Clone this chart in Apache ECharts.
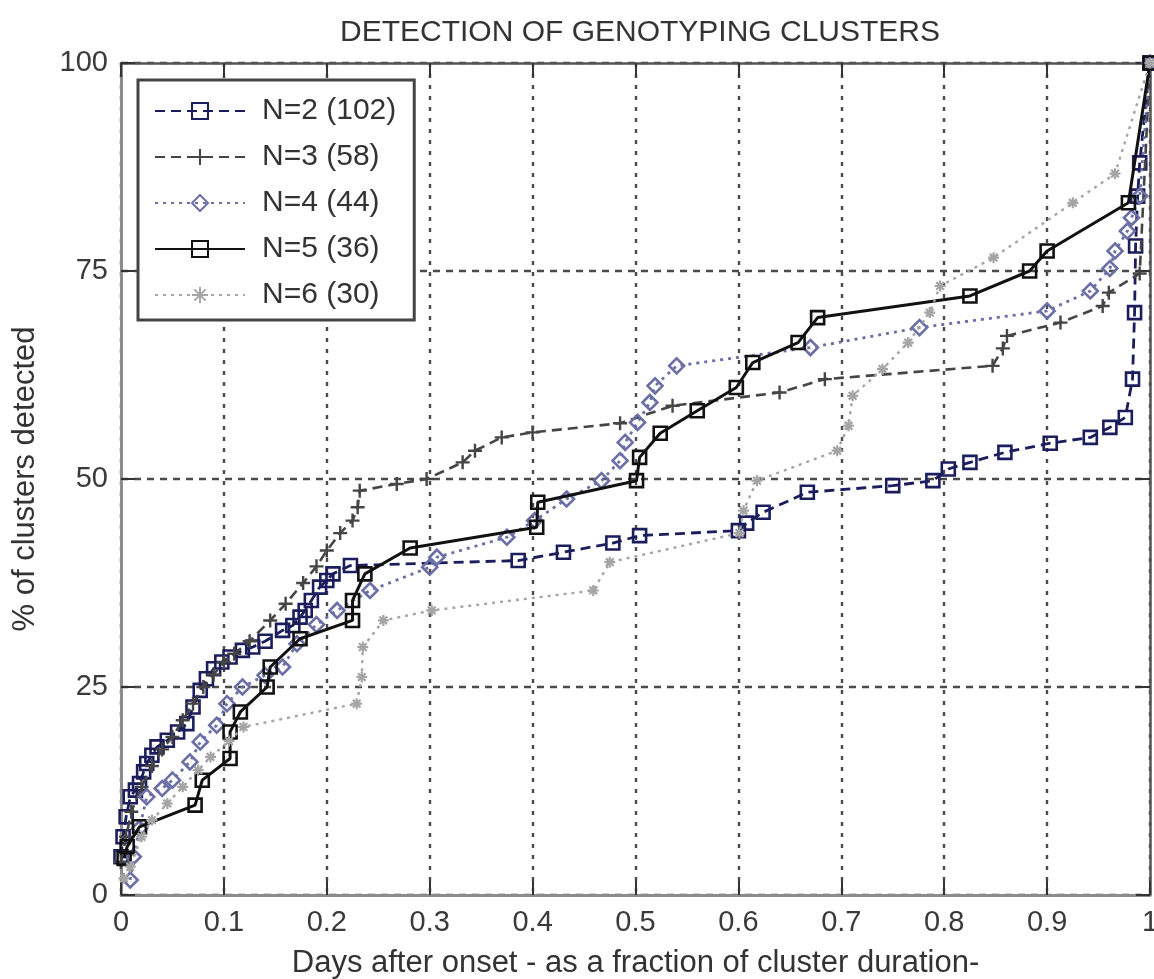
<!DOCTYPE html>
<html>
<head>
<meta charset="utf-8">
<script src="https://cdn.jsdelivr.net/npm/echarts@6/dist/echarts.min.js"></script>
<style>
html,body{margin:0;padding:0;background:#fff;}
#chart{width:1154px;height:979px;}
</style>
</head>
<body>
<div id="chart"></div>
<script>
// ---- data (x = fraction of cluster duration, y = % of clusters detected) ----
const titleText = 'DETECTION OF GENOTYPING CLUSTERS';
const xAxisName = 'Days after onset - as a fraction of cluster duration-';
const yAxisName = '% of clusters detected';
const seriesNames = ['N=2 (102)', 'N=3 (58)', 'N=4 (44)', 'N=5 (36)', 'N=6 (30)'];

const n2x = [0, 0.002, 0.005, 0.009, 0.014, 0.018, 0.022, 0.025, 0.03, 0.035, 0.045, 0.055, 0.064, 0.07, 0.077, 0.083, 0.09, 0.098, 0.106, 0.118, 0.128, 0.14, 0.157, 0.167, 0.174, 0.179, 0.185, 0.193, 0.2, 0.206, 0.223,
  0.386, 0.43, 0.478, 0.504, 0.6, 0.608, 0.624, 0.667, 0.75, 0.789, 0.804, 0.825, 0.859, 0.903, 0.942, 0.961, 0.976, 0.983, 0.985, 0.986, 0.988, 0.99, 1.0];
const n2y = [4.6, 7, 9.4, 11.8, 12.6, 13.4, 14.8, 15.8, 16.8, 17.8, 18.6, 19.6, 20.6, 22.6, 24.6, 26, 27.2, 28, 28.6, 29.4, 29.8, 30.5, 31.8, 32.4, 33.4, 34.2, 35.4, 37, 37.8, 38.6, 39.6,
  40.2, 41.2, 42.3, 43.2, 43.8, 44.7, 46, 48.4, 49.2, 49.8, 51.2, 52, 53.2, 54.3, 55, 56.2, 57.4, 62, 70, 78, 84, 88, 100];

const n3x = [0, 0.005, 0.01, 0.02, 0.03, 0.04, 0.05, 0.06, 0.07, 0.08, 0.09, 0.1, 0.11, 0.125, 0.145, 0.16, 0.177, 0.19, 0.2, 0.213, 0.225, 0.23, 0.232,
  0.268, 0.297, 0.332, 0.344, 0.37, 0.4, 0.485, 0.536, 0.64, 0.684, 0.847, 0.857, 0.861, 0.913, 0.954, 0.96, 0.99, 1.0];
const n3y = [4, 7, 10, 13, 15.5, 17.5, 19, 21, 23, 25, 26.5, 28, 29, 30.5, 33, 35, 37.5, 39.5, 41.4, 43.5, 45, 46.6, 48.6,
  49.4, 50, 52, 53.4, 55, 55.6, 56.7, 58.8, 60.4, 62, 63.6, 65.7, 67.2, 68.8, 70.8, 72.4, 74.7, 100];

const n4x = [0.009, 0.012, 0.018, 0.025, 0.04, 0.05, 0.067, 0.077, 0.093, 0.103, 0.118, 0.14, 0.157, 0.171, 0.19, 0.21, 0.242, 0.3, 0.307, 0.375, 0.402, 0.433, 0.467, 0.485, 0.49, 0.502, 0.514, 0.519, 0.54,
  0.67, 0.776, 0.9, 0.942, 0.961, 0.966, 0.978, 0.982, 0.99, 1.0];
const n4y = [1.8, 4.6, 8, 11.8, 12.8, 13.8, 16, 18.4, 20.4, 23, 25, 26.4, 27.4, 30.2, 32.5, 34.2, 36.6, 39.4, 40.6, 43, 45, 47.6, 49.8, 52.2, 54.4, 56.8, 59.2, 61.2, 63.6,
  65.8, 68.2, 70.2, 72.6, 75.3, 77.4, 79.8, 81.4, 84, 100];

const n5x = [0.003, 0.006, 0.018, 0.072, 0.079, 0.106, 0.106, 0.116, 0.142, 0.145, 0.174, 0.225, 0.225, 0.237, 0.281, 0.404, 0.405, 0.501, 0.504, 0.524, 0.56, 0.598, 0.614, 0.658, 0.677, 0.825, 0.883, 0.9, 0.979, 1.0];
const n5y = [4.4, 5.8, 8.2, 10.8, 13.8, 16.4, 19.6, 22, 25, 27.4, 30.8, 33, 35.4, 38.6, 41.7, 44.2, 47.2, 49.8, 52.6, 55.5, 58.2, 61, 64, 66.4, 69.4, 72, 75, 77.4, 83.2, 100];

const n6x = [0.003, 0.009, 0.02, 0.03, 0.045, 0.06, 0.075, 0.087, 0.105, 0.119, 0.229, 0.234, 0.235, 0.255, 0.302, 0.459, 0.475, 0.601, 0.605, 0.618, 0.696, 0.707, 0.711, 0.74, 0.765, 0.786, 0.796, 0.848, 0.925, 0.966, 1.0];
const n6y = [2, 3.4, 7, 9, 11, 13, 15, 16.6, 18.5, 20.2, 23, 26.2, 29.8, 33, 34.2, 36.6, 40, 43.5, 46.2, 49.8, 53.4, 56.4, 60, 63.2, 66.4, 70, 73.2, 76.6, 83.2, 86.7, 100];

const xTicks = [0, 0.1, 0.2, 0.3, 0.4, 0.5, 0.6, 0.7, 0.8, 0.9, 1];
const yTicks = [0, 25, 50, 75, 100];

// ---- styling ----
const FONT = "'Liberation Sans', Arial, sans-serif";
const pairs = (xs, ys) => xs.map((x, i) => [x, ys[i]]);
const plusPath = 'path://M5,0 L5,10 M0,5 L10,5';
const starPath = 'path://M5,0 L5,10 M0,5 L10,5 M1.5,1.5 L8.5,8.5 M8.5,1.5 L1.5,8.5';

const styles = [
  { color: '#1b1d5c', type: [10, 6], width: 2.8, symbol: 'rect', size: 13, bw: 2.6 },
  { color: '#454545', type: [10, 6], width: 2.6, symbol: plusPath, size: 14, bw: 2.4 },
  { color: '#6b6fa6', type: [3, 5], width: 2.8, symbol: 'diamond', size: 15, bw: 2.6 },
  { color: '#111111', type: 'solid', width: 3, symbol: 'rect', size: 13, bw: 2.6 },
  { color: '#a5a5a5', type: [3, 5], width: 2.4, symbol: starPath, size: 11, bw: 2.2 }
];
const datasets = [pairs(n2x, n2y), pairs(n3x, n3y), pairs(n4x, n4y), pairs(n5x, n5y), pairs(n6x, n6y)];

const series = seriesNames.map((name, i) => ({
  name: name,
  type: 'line',
  data: datasets[i],
  xAxisIndex: 0,
  yAxisIndex: 0,
  clip: false,
  symbol: styles[i].symbol,
  symbolSize: styles[i].size,
  showAllSymbol: true,
  z: 3 + i,
  lineStyle: { color: styles[i].color, type: styles[i].type, width: styles[i].width },
  itemStyle: { color: 'rgba(255,255,255,0)', borderColor: styles[i].color, borderWidth: styles[i].bw },
  emphasis: { disabled: true },
  animation: false
}));

const chart = echarts.init(document.getElementById('chart'), null, { renderer: 'canvas' });
const gridDash = '#4a4a4a';
chart.setOption({
  backgroundColor: '#ffffff',
  animation: false,
  title: {
    text: titleText,
    left: 635,
    top: 13,
    textAlign: 'center',
    textStyle: { fontFamily: FONT, fontSize: 30, fontWeight: 'normal', color: '#333' }
  },
  grid: { left: 121, right: 4, top: 63, bottom: 84, containLabel: false, outerBoundsMode: 'none' },
  legend: {
    orient: 'vertical',
    left: 138,
    top: 80,
    width: 240,
    backgroundColor: '#ffffff',
    borderColor: '#444',
    borderWidth: 3,
    borderRadius: 0,
    padding: [16, 18, 10, 16],
    itemWidth: 90,
    itemHeight: 20,
    itemGap: 16,
    selectedMode: false,
    textStyle: { fontFamily: FONT, fontSize: 30, color: '#333', lineHeight: 30, padding: [0, 0, 0, 12] },
    data: seriesNames
  },
  xAxis: [{
    type: 'value', min: 0, max: 1, interval: 0.1,
    name: xAxisName, nameLocation: 'middle', nameGap: 53,
    nameTextStyle: { fontFamily: FONT, fontSize: 31, color: '#333' },
    axisLine: { show: true, onZero: false, lineStyle: { color: '#8c8c8c', width: 3 } },
    axisTick: { show: true, inside: true, length: 14, lineStyle: { color: '#333', width: 2 } },
    axisLabel: { fontFamily: FONT, fontSize: 29, color: '#3a3a3a', margin: 13,
      formatter: v => xTicks.includes(Math.round(v * 10) / 10) ? String(Math.round(v * 10) / 10) : '' },
    splitLine: { show: true, lineStyle: { color: gridDash, width: 2.4, type: [4, 7] } }
  }, {
    type: 'value', min: 0, max: 1, interval: 0.1, position: 'top',
    axisLine: { show: true, onZero: false, lineStyle: { color: '#555', width: 2.5 } },
    axisTick: { show: true, inside: true, length: 14, lineStyle: { color: '#333', width: 2 } },
    axisLabel: { show: false },
    splitLine: { show: false }
  }],
  yAxis: [{
    type: 'value', min: 0, max: 100, interval: 25,
    name: yAxisName, nameLocation: 'middle', nameGap: 80, nameRotate: 90,
    nameTextStyle: { fontFamily: FONT, fontSize: 31, color: '#333' },
    axisLine: { show: true, onZero: false, lineStyle: { color: '#8c8c8c', width: 3 } },
    axisTick: { show: true, inside: true, length: 14, lineStyle: { color: '#333', width: 2 } },
    axisLabel: { fontFamily: FONT, fontSize: 29, color: '#3a3a3a', margin: 13,
      formatter: v => yTicks.includes(v) ? String(v) : '' },
    splitLine: { show: true, lineStyle: { color: gridDash, width: 2.4, type: [7, 6] } }
  }, {
    type: 'value', min: 0, max: 100, interval: 25, position: 'right',
    axisLine: { show: true, onZero: false, lineStyle: { color: '#555', width: 2.5 } },
    axisTick: { show: true, inside: true, length: 14, lineStyle: { color: '#333', width: 2 } },
    axisLabel: { show: false },
    splitLine: { show: false }
  }],
  series: series
});
</script>
</body>
</html>
